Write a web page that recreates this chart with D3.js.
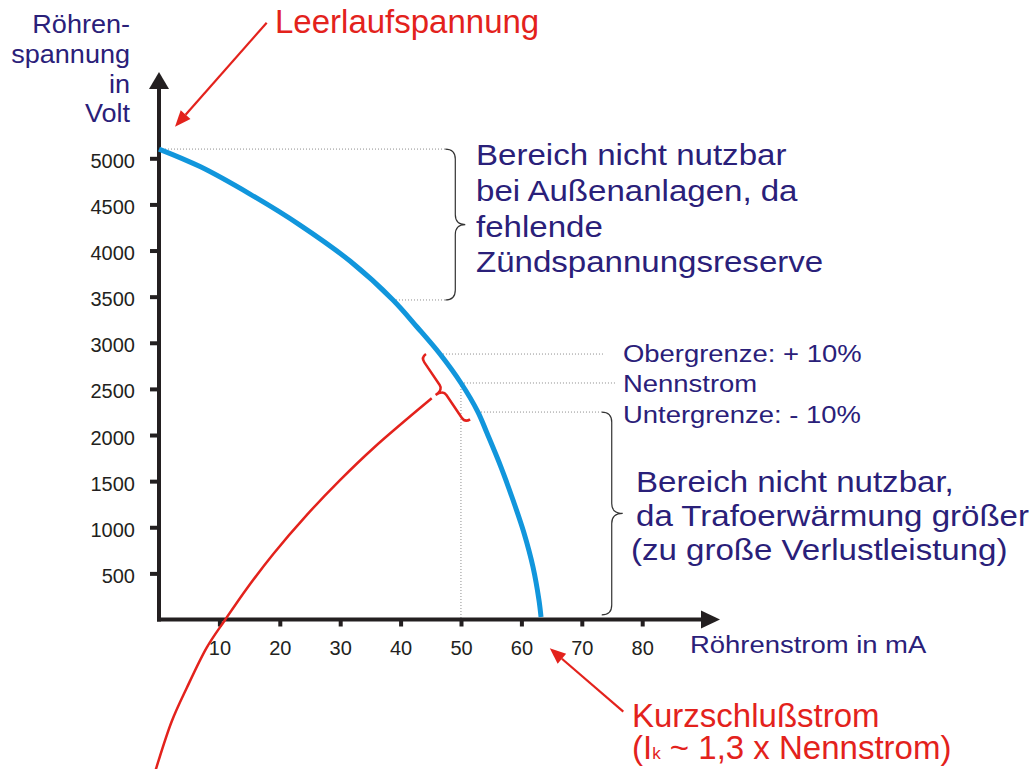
<!DOCTYPE html>
<html>
<head>
<meta charset="utf-8">
<script src="https://cdn.jsdelivr.net/npm/d3@7"></script>
<style>
  body { margin: 0; background: #fff; }
  svg { display: block; font-family: "Liberation Sans", Arial, sans-serif; }
</style>
</head>
<body>
<svg id="chart" width="1036" height="769"></svg>
<script>
// Kennlinie Streufeldtrafo: Röhrenspannung über Röhrenstrom

// blue characteristic (mA / V)
var curve_mA = [0, 6.79, 15.07, 23.34, 31.62, 38.74, 42.72, 46.52, 49.99, 52.81, 54.30, 56.62, 58.61, 60.43, 61.92, 62.91, 63.25];
var curve_V  = [5100, 4910, 4612, 4276, 3886, 3464, 3171, 2878, 2564, 2249, 2021, 1652, 1295, 938, 569, 211, 27];

// red curve (runs on below the axis)
var red_mA = [-0.88, -0.38, 2.10, 4.59, 7.90, 10.93, 14.52, 18.92, 24.45, 29.97, 35.48, 45.15];
var red_V  = [-1702, -1594, -1106, -743, -304, -5, 334, 711, 1132, 1511, 1857, 2398];

// tick labels
var xTicks = [10, 20, 30, 40, 50, 60, 70, 80];
var yTicks = [500, 1000, 1500, 2000, 2500, 3000, 3500, 4000, 4500, 5000];

// marked operating points
var leerlaufV = 5100;
var reserveI = 38.74, reserveV = 3464;
var oberI = 46.52, oberV = 2878;
var nennI = 49.99, nennV = 2564;
var unterI = 52.81, unterV = 2249;

var yTitle = ["Röhren-", "spannung", "in", "Volt"];
var topNote = ["Bereich nicht nutzbar", "bei Außenanlagen, da", "fehlende", "Zündspannungsreserve"];
var lowNote = ["Bereich nicht nutzbar,", "da Trafoerwärmung größer", "(zu große Verlustleistung)"];

var navy = "#2a2079";
var red = "#e3221c";
var blue = "#1196dc";
var ink = "#231f20";
var dots = "#8c8c8c";

var svg = d3.select("#chart");

var x = d3.scaleLinear().domain([0, 80]).range([159, 642.2]);
var y = d3.scaleLinear().domain([0, 5000]).range([619.5, 158.3]);

// text helper (some labels are slightly stretched in the original)
function label(str, px, py, size, color, anchor, sx) {
  return svg.append("text")
    .attr("transform", "translate(" + px + "," + py + ") scale(" + (sx || 1) + ",1)")
    .attr("font-size", size)
    .attr("fill", color)
    .attr("text-anchor", anchor || "start")
    .text(str);
}

// curly brace from A to B, cusp on the left side of the travel direction
function brace(ax, ay, bx, by, h, d) {
  var L = Math.hypot(bx - ax, by - ay);
  var ang = Math.atan2(by - ay, bx - ax) * 180 / Math.PI;
  var m = L / 2;
  var p = "M0,0 Q0," + h + " " + h + "," + h +
    " L" + (m - h) + "," + h +
    " Q" + m + "," + h + " " + m + "," + (h + d) +
    " Q" + m + "," + h + " " + (m + h) + "," + h +
    " L" + (L - h) + "," + h +
    " Q" + L + "," + h + " " + L + ",0";
  return svg.append("path")
    .attr("d", p)
    .attr("fill", "none")
    .attr("transform", "translate(" + ax + "," + ay + ") rotate(" + ang + ")");
}

function arrow(x1, y1, x2, y2, len, hw, color) {
  var a = Math.atan2(y2 - y1, x2 - x1);
  var bx = x2 - len * Math.cos(a), by = y2 - len * Math.sin(a);
  svg.append("line")
    .attr("x1", x1).attr("y1", y1).attr("x2", bx).attr("y2", by)
    .attr("stroke", color).attr("stroke-width", 2.2);
  svg.append("path")
    .attr("d", "M" + x2 + "," + y2 +
      "L" + (bx + hw * Math.sin(a)) + "," + (by - hw * Math.cos(a)) +
      "L" + (bx - hw * Math.sin(a)) + "," + (by + hw * Math.cos(a)) + "Z")
    .attr("fill", color);
}

// dotted helper lines
var guides = [
  [[0, leerlaufV], [47.4, leerlaufV]],
  [[reserveI, reserveV], [47.4, reserveV]],
  [[oberI, oberV], [73.5, oberV]],
  [[nennI, nennV], [75.5, nennV]],
  [[unterI, unterV], [73.3, unterV]],
  [[nennI, nennV], [nennI, 0]]
];
svg.selectAll(".guide").data(guides).enter().append("line")
  .attr("class", "guide")
  .attr("x1", function(d) { return x(d[0][0]); })
  .attr("y1", function(d) { return y(d[0][1]); })
  .attr("x2", function(d) { return x(d[1][0]); })
  .attr("y2", function(d) { return y(d[1][1]); })
  .attr("stroke", dots)
  .attr("stroke-width", 1)
  .attr("stroke-dasharray", "1,2");

// axes
var xAxis = svg.append("g")
  .attr("transform", "translate(0," + y(0) + ")")
  .call(d3.axisBottom(x).tickValues(xTicks).tickSize(7).tickPadding(14).tickSizeOuter(0));
var yAxis = svg.append("g")
  .attr("transform", "translate(" + x(0) + ",0)")
  .call(d3.axisLeft(y).tickValues(yTicks).tickFormat(d3.format("d"))
    .tickSize(9).tickPadding(15).tickSizeOuter(0));

[xAxis, yAxis].forEach(function(g) {
  g.select(".domain").remove();
  g.selectAll(".tick line").attr("stroke", ink).attr("stroke-width", 4);
  g.selectAll(".tick text").attr("fill", ink).attr("font-size", 20)
    .attr("font-family", "Liberation Sans, Arial, sans-serif");
});
yAxis.selectAll(".tick text").attr("dy", "0.45em");

// axis lines with arrow heads
svg.append("line")
  .attr("x1", x(0)).attr("y1", y(0) + 2).attr("x2", x(0)).attr("y2", 86)
  .attr("stroke", ink).attr("stroke-width", 4);
svg.append("path")
  .attr("d", "M" + x(0) + ",72 L" + (x(0) - 10) + ",89 L" + (x(0) + 10) + ",89 Z")
  .attr("fill", ink);
svg.append("line")
  .attr("x1", x(0) - 2).attr("y1", y(0)).attr("x2", 704).attr("y2", y(0))
  .attr("stroke", ink).attr("stroke-width", 4);
svg.append("path")
  .attr("d", "M720," + y(0) + " L701," + (y(0) - 9) + " L701," + (y(0) + 9) + " Z")
  .attr("fill", ink);

var line = d3.line()
  .x(function(d) { return x(d[0]); })
  .y(function(d) { return y(d[1]); })
  .curve(d3.curveCatmullRom.alpha(0.5));

// red curve
var redPts = red_mA.map(function(v, i) { return [v, red_V[i]]; });
svg.append("path")
  .datum(redPts)
  .attr("d", line)
  .attr("fill", "none")
  .attr("stroke", red)
  .attr("stroke-width", 2.5);

// blue characteristic
var bluePts = curve_mA.map(function(v, i) { return [v, curve_V[i]]; });
svg.append("path")
  .datum(bluePts)
  .attr("d", line)
  .attr("fill", "none")
  .attr("stroke", blue)
  .attr("stroke-width", 5);

// braces
brace(x(47.4), y(reserveV), x(47.4), y(leerlaufV), 10, 10)
  .attr("stroke", "#333").attr("stroke-width", 1.2);
brace(x(73.3), y(50), x(73.3), y(unterV), 10, 11)
  .attr("stroke", "#333").attr("stroke-width", 1.2);
brace(x(44.2), y(oberV), x(51.5), y(2170), 6, 9)
  .attr("stroke", red).attr("stroke-width", 2.5);

// arrows
arrow(266.7, 22.7, x(2.65), y(5343), 16, 6.5, red);
arrow(623.3, 711.7, x(64.7), y(-312), 16, 6.5, red);

// labels
yTitle.forEach(function(t, i) {
  label(t, 130, [33, 63, 92.5, 121.5][i], 26, navy, "end", 1.04);
});
label("Röhrenstrom in mA", 690, 653, 24.5, navy, "start", 1.12);

topNote.forEach(function(t, i) {
  label(t, 476, [165, 201, 236.5, 272][i], 29, navy, "start", 1.14);
});
lowNote.forEach(function(t, i) {
  label(t, [636, 636, 631][i], [491.7, 526, 560][i], 29, navy, "start", 1.14);
});

label("Obergrenze: + 10%", 623, 361.7, 24.5, navy, "start", 1.12);
label("Nennstrom", 623, 391.7, 24.5, navy, "start", 1.12);
label("Untergrenze: - 10%", 623, 423.3, 24.5, navy, "start", 1.12);

label("Leerlaufspannung", 275, 33, 33, red);
label("Kurzschlußstrom", 632, 726.7, 33, red);
var ik = label("(I", 632, 758.5, 33, red);
ik.append("tspan").attr("font-size", 17).text("k");
ik.append("tspan").text(" ~ 1,3 x Nennstrom)");
</script>
</body>
</html>
